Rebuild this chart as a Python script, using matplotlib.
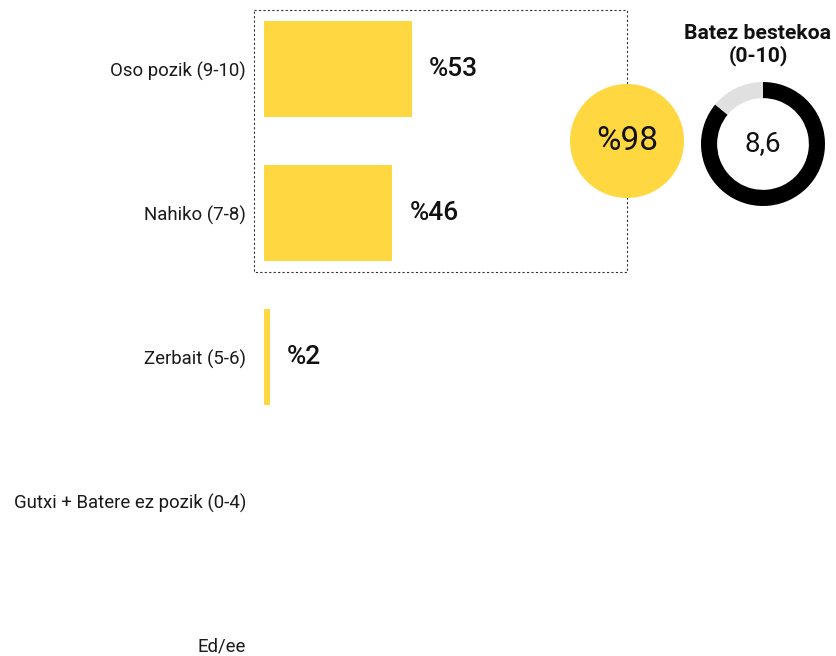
import matplotlib.pyplot as plt
from matplotlib.patches import Rectangle, Circle

plt.rcParams['font.family'] = ['Roboto', 'DejaVu Sans']

categories = ['Oso pozik (9-10)', 'Nahiko (7-8)', 'Zerbait (5-6)',
              'Gutxi + Batere ez pozik (0-4)', 'Ed/ee']
values = [53, 46, 2, None, None]
satisfied_total = 98
mean_score = 8.6
mean_label = '8,6'
scale_max = 10

yellow = '#FFD740'
W, H = 836, 656
px_per_pct = 2.79
row_px = 144
first_row = 69

fig = plt.figure(figsize=(W / 100, H / 100), dpi=100)

# bar axes: left edge at 264 px, full height
ax = fig.add_axes([264 / W, 0, 1 - 264 / W, 1])
ax.set_xlim(0, (W - 264) / px_per_pct)
ax.set_ylim((H - first_row) / row_px, -first_row / row_px)

ypos = list(range(len(categories)))
for y, v in zip(ypos, values):
    if v is None:
        continue
    ax.barh(y, v, height=0.667, color=yellow, linewidth=0)
    ax.text(v + 17 / px_per_pct, y, f'%{v}', va='center', ha='left',
            fontsize=19, fontweight='medium', color='#111111')

ax.set_yticks(ypos)
ax.set_yticklabels(categories, fontsize=13.4, color='#1a1a1a')
ax.tick_params(axis='y', length=0, pad=13)
ax.tick_params(axis='x', bottom=False, labelbottom=False)
for s in ax.spines.values():
    s.set_visible(False)

# dotted box around the two top bars
x0 = (254 - 264) / px_per_pct
x1 = (627 - 264) / px_per_pct
y0 = (10 - first_row) / row_px
y1 = (272 - first_row) / row_px
ax.add_patch(Rectangle((x0, y0), x1 - x0, y1 - y0, fill=False,
                       linestyle=(0, (2, 2)), linewidth=0.8,
                       edgecolor='#333333', clip_on=False))

# yellow circle with the total
r = 57
cax = fig.add_axes([(627 - r) / W, (H - 141 - r) / H, 2 * r / W, 2 * r / H])
cax.set_xlim(-1, 1)
cax.set_ylim(-1, 1)
cax.axis('off')
cax.add_patch(Circle((0, 0), 1, color=yellow, linewidth=0))
cax.text(0, 0, f'%{satisfied_total}', ha='center', va='center',
         fontsize=24, color='#111111')

# donut with the mean score
R = 62
dax = fig.add_axes([(763 - R) / W, (H - 144 - R) / H, 2 * R / W, 2 * R / H])
dax.pie([mean_score, scale_max - mean_score], colors=['#000000', '#E0E0E0'],
        startangle=90, counterclock=False, radius=1,
        wedgeprops=dict(width=0.26, linewidth=0))
dax.set_xlim(-1, 1)
dax.set_ylim(-1, 1)
dax.set_aspect('equal')
dax.text(0, 0, mean_label, ha='center', va='center', fontsize=20,
         color='#111111')

fig.text(758 / W, 1 - 45 / H, 'Batez bestekoa\n(0-10)', ha='center',
         va='center', fontsize=15.2, fontweight='bold', linespacing=1.1,
         color='#111111')

fig.savefig('out.png', dpi=100)
